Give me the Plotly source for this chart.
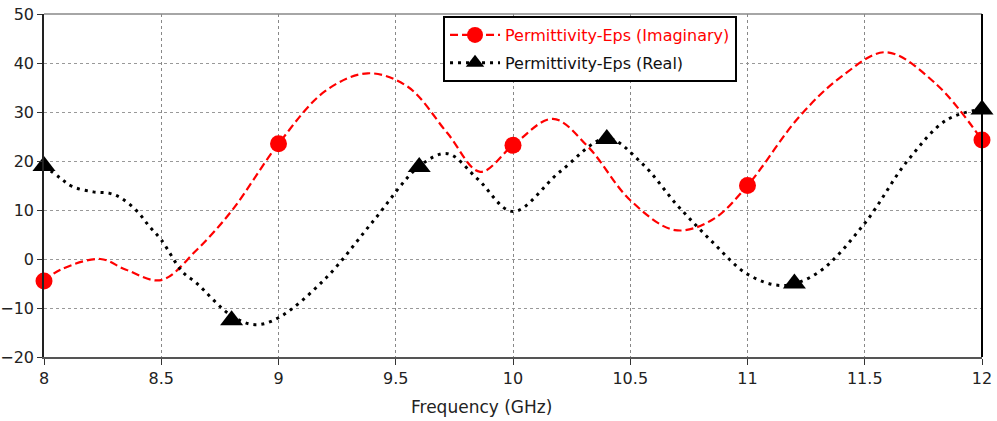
import plotly.graph_objects as go

# Imaginary part of permittivity (curve samples and measured points)
imag_freq = [8.0, 8.07, 8.24, 8.35, 8.5, 8.65, 8.8, 9.0, 9.2, 9.38, 9.55, 9.72, 9.86,
             10.0, 10.17, 10.32, 10.5, 10.69, 10.85, 11.0, 11.22, 11.4, 11.59, 11.8, 12.0]
imag_eps = [-4.5, -2.2, 0.0, -2.2, -4.3, 1.8, 9.8, 23.5, 34.3, 37.9, 35.2, 25.7, 17.8,
            23.2, 28.6, 22.9, 12.0, 5.9, 8.0, 15.0, 29.0, 37.2, 42.2, 35.9, 24.3]
imag_mark_freq = [8.0, 9.0, 10.0, 11.0, 12.0]
imag_mark_eps = [-4.5, 23.5, 23.2, 15.0, 24.3]

# Real part of permittivity
real_freq = [8.0, 8.07, 8.12, 8.21, 8.28, 8.33, 8.4, 8.45, 8.5, 8.59, 8.65, 8.8, 8.9, 9.0,
             9.2, 9.4, 9.6, 9.72, 9.85, 10.0, 10.2, 10.4, 10.55, 10.7, 10.85, 11.0, 11.15,
             11.3, 11.5, 11.68, 11.85, 12.0]
real_eps = [19.0, 16.5, 14.8, 13.7, 13.4, 12.4, 9.6, 6.6, 3.9, -2.6, -4.9, -11.6, -13.4,
            -12.0, -4.0, 7.5, 18.9, 21.5, 16.3, 9.7, 17.8, 24.6, 19.5, 11.0, 3.5, -3.1,
            -5.4, -2.8, 7.3, 19.9, 28.4, 30.6]
real_mark_freq = [8.0, 8.8, 9.6, 10.4, 11.2, 12.0]
real_mark_eps = [19.0, -12.5, 18.8, 24.5, -5.0, 30.5]

x_ticks = [8, 8.5, 9, 9.5, 10, 10.5, 11, 11.5, 12]
x_tick_text = ["8", "8.5", "9", "9.5", "10", "10.5", "11", "11.5", "12"]
y_ticks = [-20, -10, 0, 10, 20, 30, 40, 50]

RED = "#ff0000"
BLACK = "#000000"
FONT = "DejaVu Sans"
RED_DASH = "8px,4px"
BLACK_DOT = "3px,5px"

fig = go.Figure()

fig.add_trace(go.Scatter(x=imag_freq, y=imag_eps, mode="lines", line_shape="spline",
                         line=dict(color=RED, width=2.2, dash=RED_DASH), showlegend=False))
fig.add_trace(go.Scatter(x=real_freq, y=real_eps, mode="lines", line_shape="spline",
                         line=dict(color=BLACK, width=3, dash=BLACK_DOT), showlegend=False))
fig.add_trace(go.Scatter(x=imag_mark_freq, y=imag_mark_eps, mode="markers",
                         marker=dict(color=RED, size=17, symbol="circle"), showlegend=False,
                         cliponaxis=False))
fig.add_trace(go.Scatter(x=real_mark_freq, y=real_mark_eps, mode="markers",
                         marker=dict(color=BLACK, size=20, symbol="triangle-up"), showlegend=False,
                         cliponaxis=False))

# legend entries
fig.add_trace(go.Scatter(x=[None], y=[None], mode="lines+markers", legendgroup="imag",
                         name='<span style="color:#ff0000">Permittivity-Eps (Imaginary)</span>',
                         line=dict(color=RED, width=2.2, dash=RED_DASH),
                         marker=dict(color=RED, size=16, symbol="circle")))
fig.add_trace(go.Scatter(x=[None], y=[None], mode="lines+markers", legendgroup="real",
                         name="Permittivity-Eps (Real)",
                         line=dict(color=BLACK, width=3, dash=BLACK_DOT),
                         marker=dict(color=BLACK, size=16, symbol="triangle-up")))

fig.update_layout(
    width=997, height=421,
    margin=dict(l=44, r=15, t=14, b=64),
    paper_bgcolor="white", plot_bgcolor="white",
    font=dict(family=FONT, size=16, color="#222"),
    showlegend=True,
    legend=dict(x=0.4254, y=0.994, xanchor="left", yanchor="top",
                bgcolor="white", bordercolor="black", borderwidth=2,
                font=dict(family=FONT, size=16, color="#111"),
                itemwidth=50, tracegroupgap=4),
    xaxis=dict(range=[8, 12], tickvals=x_ticks, ticktext=x_tick_text, automargin=False,
               showgrid=True, gridcolor="#888", griddash="dot", gridwidth=1,
               showline=True, linecolor="#555", linewidth=1.5,
               ticks="outside", ticklen=6, tickcolor="#333", zeroline=False,
               tickfont=dict(family=FONT, size=16, color="#222")),
    yaxis=dict(range=[-20, 50], tickvals=y_ticks, automargin=False,
               showgrid=True, gridcolor="#999", griddash="dot", gridwidth=1,
               showline=True, linecolor="#222", linewidth=1.5,
               ticks="outside", ticklen=5, tickcolor="#333", zeroline=False,
               tickfont=dict(family=FONT, size=16, color="#222")),
    shapes=[
        dict(type="line", xref="paper", yref="paper", x0=0, x1=1, y0=1, y1=1,
             line=dict(color="#888", width=1.5)),
        dict(type="line", xref="paper", yref="paper", x0=1, x1=1, y0=0, y1=1,
             line=dict(color="black", width=2)),
    ],
    annotations=[
        dict(text="Frequency (GHz)", xref="paper", yref="paper", x=0.466, y=-0.146,
             xanchor="center", yanchor="middle", showarrow=False,
             font=dict(family=FONT, size=17, color="#222")),
    ],
)

fig.write_html("out.html")
